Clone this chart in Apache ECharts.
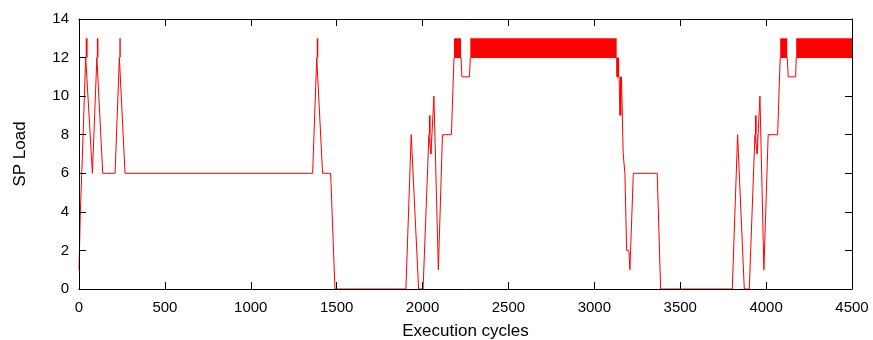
<!DOCTYPE html>
<html>
<head>
<meta charset="utf-8">
<script src="https://cdn.jsdelivr.net/npm/echarts@6/dist/echarts.min.js"></script>
<style>
  html, body { margin: 0; padding: 0; background: #fff; }
  #chart { width: 873px; height: 340px; }
</style>
</head>
<body>
<div id="chart"></div>
<script>
// trace of the SP load (cycle, load)
const cycles = [0, 8, 20, 39, 50, 78, 104, 113, 138, 210, 235, 243, 268,
  1360, 1384, 1393, 1418, 1465, 1490, 1903, 1934, 1945, 1977, 2003, 2037, 2047, 2049, 2051,
  2066, 2092, 2116, 2168, 2183, 2224, 2229, 2273, 2278, 3130, 3131, 3144, 3149, 3158,
  3168, 3178, 3188, 3201, 3207, 3211, 3227, 3366, 3386, 3803, 3834, 3844, 3873, 3902,
  3935, 3945, 3948, 3950, 3964, 3987, 4012, 4067, 4082, 4123, 4129, 4172, 4175, 4500];
const load = [1, 4, 7, 12, 12, 6, 12, 12, 6, 6, 12, 12, 6,
  6, 12, 12, 6, 6, 0, 0, 8, 8, 0, 0, 8, 8, 7, 7,
  10, 1, 8, 8, 12, 12, 11, 11, 12, 12, 11, 11, 9, 11,
  7, 6, 2, 2, 1, 2, 6, 6, 0, 0, 8, 8, 0, 0,
  8, 8, 7, 7, 10, 1, 8, 8, 12, 12, 11, 11, 12, 12];

// regions where the load flips every sample (drawn as solid bands)
const bandStart = [39, 104, 235, 1384, 2037, 2047, 2183, 2278, 3130, 3149, 3935, 3945, 4082, 4175];
const bandEnd = [50, 113, 243, 1393, 2047, 2051, 2224, 3130, 3144, 3158, 3945, 3950, 4123, 4500];
const bandLow = [12, 12, 12, 12, 8, 7, 12, 12, 11, 9, 8, 7, 12, 12];
const bandHigh = [13, 13, 13, 13, 9, 8, 13, 13, 12, 11, 9, 8, 13, 13];

const xTicks = [0, 4500, 500];
const yTicks = [0, 14, 2];

const font = "Liberation Sans";
const ink = "#000";

const chart = echarts.init(document.getElementById("chart"));

const tickStyle = { show: true, inside: true, length: 7, lineStyle: { color: ink, width: 1 } };
const lineStyle = { show: true, onZero: false, lineStyle: { color: ink, width: 1 } };
const plain = (v) => String(v);

const bands = bandStart.map((s, i) => [
  { coord: [s, bandLow[i]] },
  { coord: [bandEnd[i], bandHigh[i]] },
]);

chart.setOption({
  animation: false,
  backgroundColor: "#fff",
  grid: { left: 79, right: 21, top: 19, bottom: 51, containLabel: false, outerBoundsMode: "none" },
  xAxis: [
    {
      type: "value",
      min: xTicks[0], max: xTicks[1], interval: xTicks[2],
      name: "Execution cycles",
      nameLocation: "middle",
      nameGap: 34,
      nameTextStyle: { fontFamily: font, fontSize: 17, color: ink },
      axisLine: lineStyle,
      axisTick: tickStyle,
      axisLabel: { fontFamily: font, fontSize: 15, color: ink, margin: 11, formatter: plain },
      splitLine: { show: false },
      z: 5,
    },
    {
      type: "value",
      position: "top",
      min: xTicks[0], max: xTicks[1], interval: xTicks[2],
      axisLine: lineStyle,
      axisTick: tickStyle,
      axisLabel: { show: false },
      splitLine: { show: false },
    },
  ],
  yAxis: [
    {
      type: "value",
      min: yTicks[0], max: yTicks[1], interval: yTicks[2],
      name: "SP Load",
      nameLocation: "middle",
      nameRotate: 90,
      nameGap: 50,
      nameTextStyle: { fontFamily: font, fontSize: 17, color: ink },
      axisLine: lineStyle,
      axisTick: tickStyle,
      axisLabel: { fontFamily: font, fontSize: 15, color: ink, margin: 10, formatter: plain },
      splitLine: { show: false },
      z: 5,
    },
    {
      type: "value",
      position: "right",
      min: yTicks[0], max: yTicks[1], interval: yTicks[2],
      axisLine: lineStyle,
      axisTick: tickStyle,
      axisLabel: { show: false },
      splitLine: { show: false },
    },
  ],
  series: [
    {
      type: "line",
      data: cycles.map((c, i) => [c, load[i]]),
      showSymbol: false,
      lineStyle: { color: "#ff0000", width: 1 },
      clip: false,
      markArea: {
        silent: true,
        itemStyle: { color: "#ff0000", opacity: 1 },
        data: bands,
      },
    },
  ],
});
</script>
</body>
</html>
